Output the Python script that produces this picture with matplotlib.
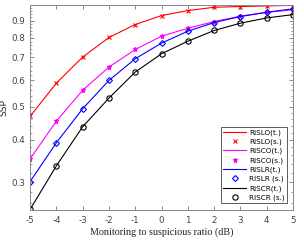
import matplotlib
matplotlib.use("Agg")
import matplotlib.pyplot as plt
import numpy as np
from matplotlib.ticker import FixedLocator, NullFormatter

x = [-5, -4, -3, -2, -1, 0, 1, 2, 3, 4, 5]
rislo = [0.469, 0.588, 0.702, 0.802, 0.876, 0.931, 0.963, 0.985, 0.990, 0.994, 0.998]
risco = [0.351, 0.454, 0.560, 0.656, 0.739, 0.809, 0.854, 0.894, 0.927, 0.952, 0.968]
rislr = [0.301, 0.392, 0.494, 0.599, 0.694, 0.772, 0.837, 0.888, 0.925, 0.952, 0.975]
riscr = [0.249, 0.335, 0.437, 0.531, 0.634, 0.718, 0.782, 0.841, 0.884, 0.916, 0.937]

labels = ["RISLO(t.)", "RISLO(s.)", "RISCO(t.)", "RISCO(s.)",
          "RISLR(t.)", "RISLR (s.)", "RISCR(t.)", "RISCR (s.)"]
yticks = [0.3, 0.4, 0.5, 0.6, 0.7, 0.8, 0.9]
xticks = [-5, -4, -3, -2, -1, 0, 1, 2, 3, 4, 5]

fig = plt.figure(figsize=(3.04, 2.40), dpi=100)
ax = fig.add_axes([0.099, 0.125, 0.865, 0.854])
ax.set_yscale('log')

series = [
    (rislo, 'red', 'x', dict(markersize=3.2, markeredgewidth=0.8)),
    (risco, 'magenta', '*', dict(markersize=3.6, markerfacecolor='magenta', markeredgewidth=0.8)),
    (rislr, 'blue', 'D', dict(markersize=3.0, markerfacecolor='none', markeredgewidth=0.8)),
    (riscr, 'black', 'o', dict(markersize=3.8, markerfacecolor='none', markeredgewidth=0.8)),
]
for i, (ys, c, m, kw) in enumerate(series):
    ax.plot(x, ys, color=c, lw=0.8, label=labels[2 * i])
    ax.plot(x, ys, linestyle='none', color=c, marker=m, label=labels[2 * i + 1], **kw)

ax.set_xlim(-5, 5)
ax.set_ylim(0.248, 1.0)
ax.set_xticks(xticks)
ax.set_xticklabels([str(v) for v in xticks])
ax.yaxis.set_major_locator(FixedLocator(yticks))
ax.set_yticklabels([str(v) for v in yticks])
minor = [v / 100 for v in range(26, 100, 2) if v % 10 != 0]
ax.yaxis.set_minor_locator(FixedLocator(minor))
ax.yaxis.set_minor_formatter(NullFormatter())
ax.xaxis.set_minor_locator(FixedLocator([]))

ax.tick_params(axis='both', which='both', direction='in', top=True, right=True,
               colors='#777777', labelsize=6.3, labelcolor='#444444')
ax.tick_params(which='major', length=3, width=0.6)
ax.tick_params(which='minor', length=1.6, width=0.5)
ax.tick_params(axis='x', pad=4)
for s in ax.spines.values():
    s.set_color('#888888')
    s.set_linewidth(0.7)

ax.set_xlabel('Monitoring to suspicious ratio (dB)', family='Liberation Serif',
              fontsize=7.3, color='#222222', labelpad=2)
ax.set_ylabel('SSP', fontsize=6.5, color='#222222')
ax.yaxis.set_label_coords(-0.082, 0.5)

leg = ax.legend(loc='lower right', bbox_to_anchor=(0.977, 0.034), borderaxespad=0,
                fontsize=5.2, frameon=True, fancybox=False, handlelength=3.2,
                labelspacing=0.38, borderpad=0.3, handletextpad=0.4)
leg.get_frame().set_edgecolor('#333333')
leg.get_frame().set_linewidth(0.7)

fig.savefig('out.png', dpi=100)
